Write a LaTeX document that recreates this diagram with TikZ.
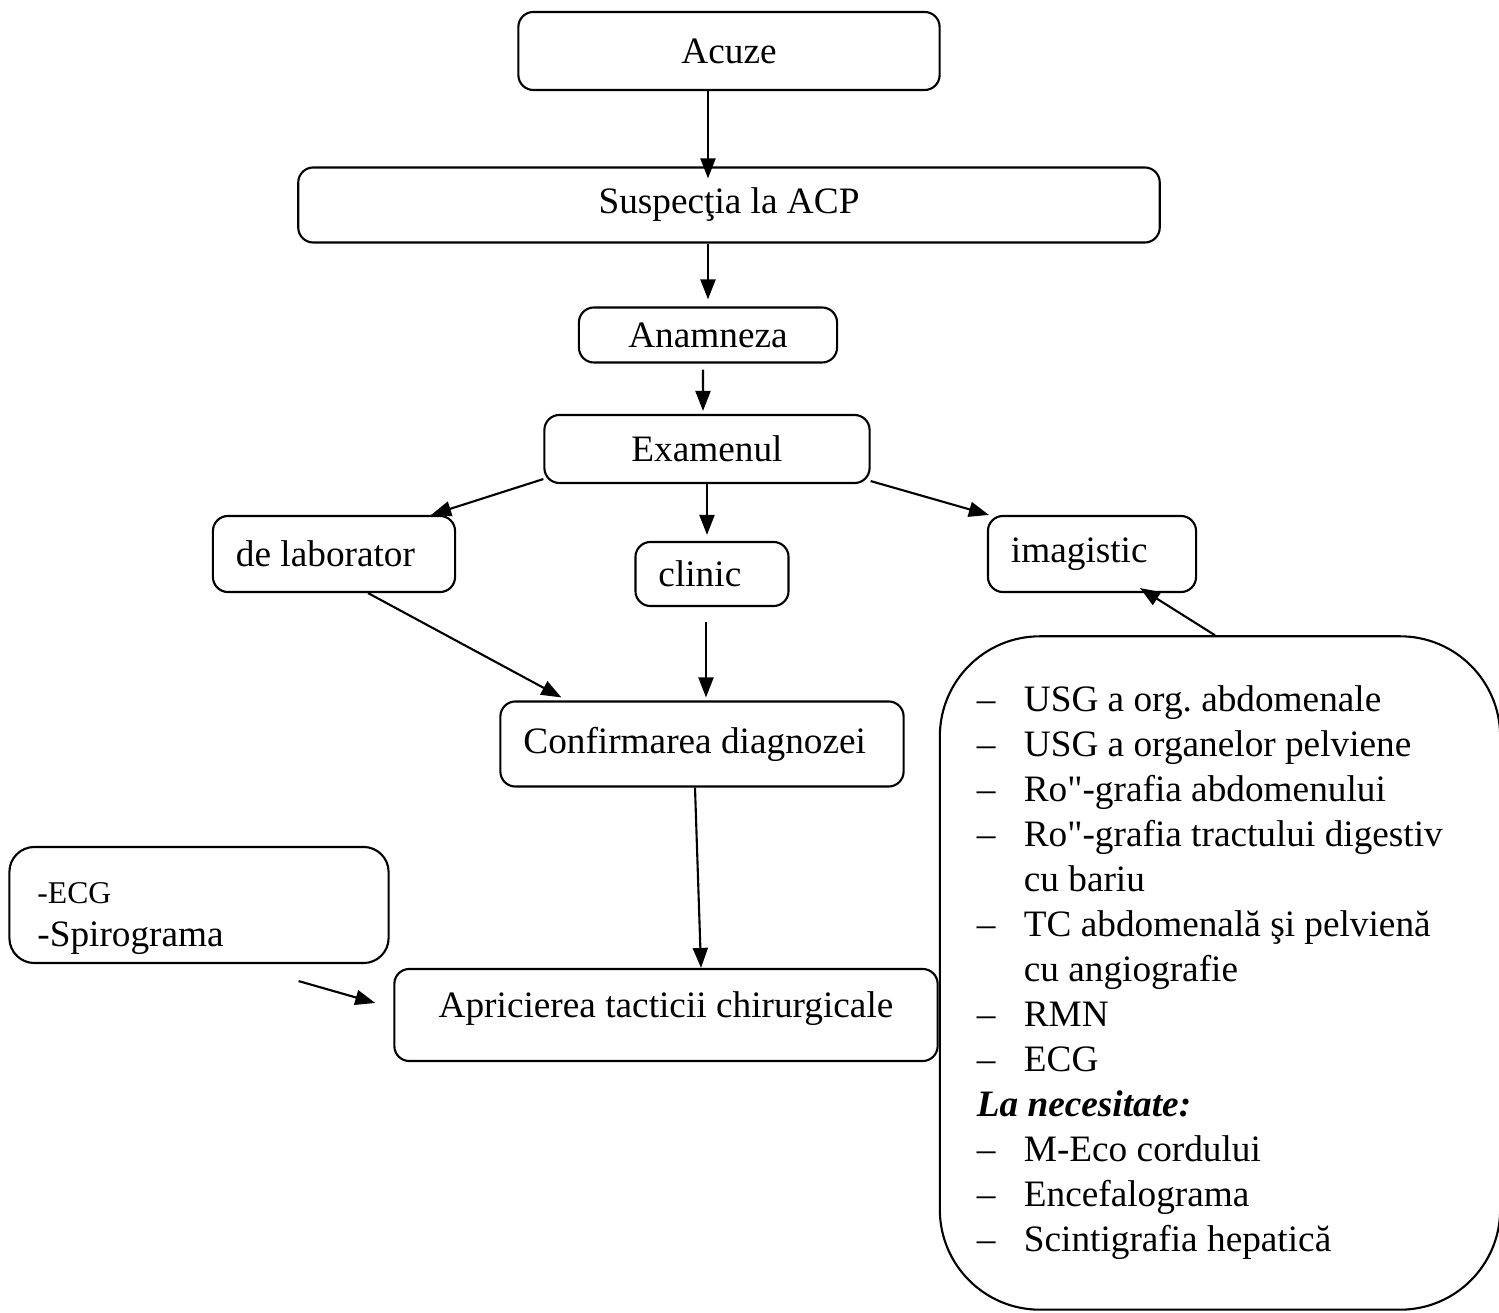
\documentclass[tikz,border=0pt]{standalone}
\usepackage{fontspec}
\setmainfont{Liberation Serif}[Ligatures=TeXOff]
\usetikzlibrary{arrows.meta,positioning}

\begin{document}
\begin{tikzpicture}[
  x=0.01cm, y=-0.01cm,
  every node/.style={font=\fontsize{10.6}{12.8}\selectfont},
  box/.style={draw, rounded corners=0.15cm, line width=0.6pt, inner sep=0pt},
  leftbox/.style={box, align=flush left, inner xsep=0.23cm},
  arrow/.style={-{Triangle[length=0.2cm,width=0.15cm]}, line width=0.6pt},
  ]

\useasboundingbox (0,0) rectangle (1499,1313);

% Nodes
\node[box, minimum width=4.21cm, minimum height=0.78cm] (acuze) at (729,51) {Acuze};
\node[box, minimum width=8.61cm, minimum height=0.75cm] (susp) at (729,205) {Suspecţia la ACP};
\node[box, minimum width=2.58cm, minimum height=0.55cm] (anam) at (708,335) {Anamneza};
\node[box, minimum width=3.25cm, minimum height=0.68cm] (exam) at (707,449) {Examenul};
\node[leftbox, text width=1.96cm, minimum height=0.76cm] (lab) at (334,554) {de laborator};
\node[leftbox, text width=1.07cm, minimum height=0.64cm] (clinic) at (712,574) {clinic};
\node[leftbox, text width=1.62cm, minimum height=0.76cm] (imag) at (1092,554) {imagistic};
\node[leftbox, text width=3.57cm, minimum height=0.85cm] (conf) at (702,744) {Confirmarea diagnozei};
\node[box, minimum width=5.43cm, minimum height=0.92cm, text depth=0.2cm] (apric) at (666,1015) {Apricierea tacticii chirurgicale};
\node[leftbox, rounded corners=0.25cm, inner xsep=0.28cm, text width=3.23cm, minimum height=1.16cm,
  text height=0.48cm] (ecg) at (199,905)
  {{\fontsize{9}{9}\selectfont -ECG}\\[-0.02cm]-Spirograma};
\node[leftbox, rounded corners=1cm, inner xsep=0.37cm, text width=4.86cm, minimum height=6.73cm] (list) at (1220,973)
  {\makebox[0.47cm][l]{–}USG a org.\ abdomenale\\
   \makebox[0.47cm][l]{–}USG a organelor pelviene\\
   \makebox[0.47cm][l]{–}Ro"-grafia abdomenului\\
   \makebox[0.47cm][l]{–}Ro"-grafia tractului digestiv\\
   \hspace*{0.47cm}cu bariu\\
   \makebox[0.47cm][l]{–}TC abdomenală şi pelvienă\\
   \hspace*{0.47cm}cu angiografie\\
   \makebox[0.47cm][l]{–}RMN\\
   \makebox[0.47cm][l]{–}ECG\\
   \textbf{\textit{La necesitate:}}\\
   \makebox[0.47cm][l]{–}M-Eco cordului\\
   \makebox[0.47cm][l]{–}Encefalograma\\
   \makebox[0.47cm][l]{–}Scintigrafia hepatică};

% Arrows
\draw[arrow] (acuze.south -| anam) -- ([yshift=-0.12cm]susp.north -| anam);
\draw[arrow] (susp.south -| anam) -- ([yshift=0.07cm]anam.north);
\draw[arrow, shorten <=0.06cm] ([xshift=-0.05cm]anam.south) -- ([xshift=-0.04cm, yshift=0.03cm]exam.north);
\draw[arrow] ([yshift=0.05cm]exam.south west) -- ([xshift=-0.25cm]lab.north east);
\draw[arrow] (exam.south) -- ([yshift=0.06cm]clinic.north -| exam);
\draw[arrow] ([yshift=0.03cm]exam.south east) -- ([xshift=0.02cm]imag.north west);
\draw[arrow] ([xshift=0.34cm]lab.south) -- ([xshift=0.62cm, yshift=0.03cm]conf.north west);
\draw[arrow, shorten <=0.15cm] ([xshift=-0.06cm]clinic.south) -- ([xshift=-0.06cm, yshift=0.03cm]clinic.south |- conf.north);
\draw[arrow] ([xshift=-0.07cm]conf.south) -- ([xshift=0.35cm]apric.north);
\draw[arrow] ([xshift=-0.91cm, yshift=-0.17cm]ecg.south east) -- ([xshift=-0.18cm, yshift=0.12cm]apric.west);
\draw[arrow] ([xshift=-0.05cm]list.north) -- ([xshift=0.48cm, yshift=0.05cm]imag.south);

\end{tikzpicture}
\end{document}
